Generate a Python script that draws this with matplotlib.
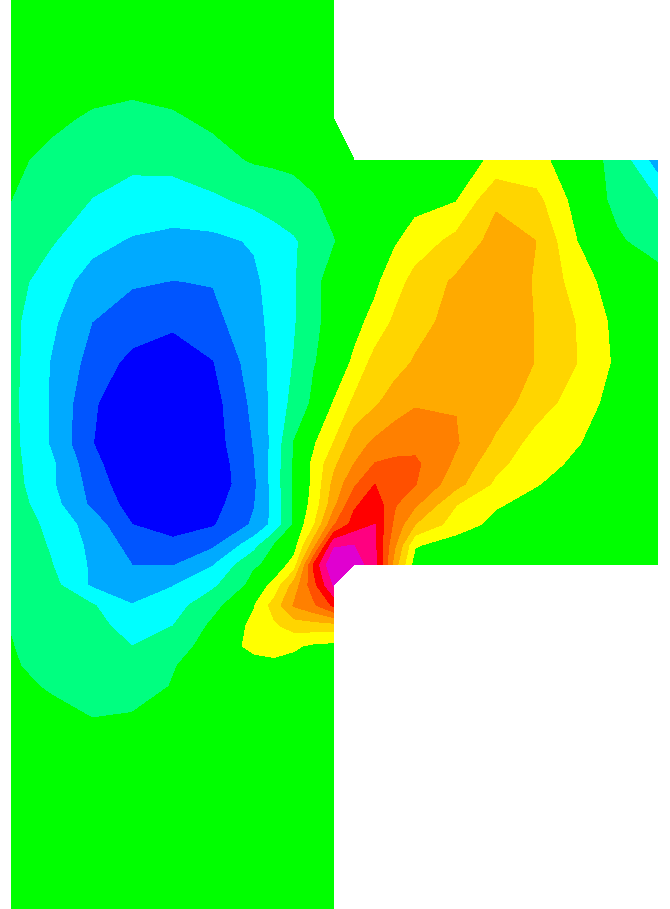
import numpy as np
import matplotlib
matplotlib.use('Agg')
import matplotlib.pyplot as plt

nan = float('nan')

# grid nodes, in picture pixels
x_left = [11, 51, 92, 132, 173, 213, 254, 274, 294, 314, 334]
x_right = [354, 375, 395, 415, 456, 496, 536, 577, 617, 658]
y_nodes = [-2, 38.5, 79, 119.5, 160, 200.5, 241, 281.5, 322, 362.5, 403, 443.5, 464, 484, 504,
           524.5, 545, 565, 585, 605.5, 626, 646, 666, 686.5, 727, 767.5, 808, 848.5, 889, 929.5]

# field values on the vertical column (all rows of y_nodes)
field_left = [
    [0, 0, 0, 0, 0, 0, 0, 0, 0, 0, 0],
    [0, 0, 0, 0, 0, 0, 0, 0, 0, 0, 0],
    [0, -0.05, -0.1, -0.2, -0.15, -0.05, 0, 0, 0, 0, 0],
    [-0.05, -0.3, -0.65, -0.8, -0.62, -0.35, -0.1, -0.05, -0.05, 0, 0],
    [-0.3, -0.75, -1.15, -1.3, -1.2, -0.8, -0.42, -0.35, -0.25, -0.1, 0],
    [-0.5, -1.0, -1.53, -1.85, -1.96, -1.7, -1.25, -1.1, -0.95, -0.6, -0.2],
    [-0.85, -1.4, -2.2, -2.6, -2.78, -2.75, -2.4, -1.9, -1.6, -1.14, -0.55],
    [-1.1, -2.0, -2.9, -3.4, -3.52, -3.45, -2.7, -2.1, -1.6, -0.75, -0.1],
    [-1.25, -2.3, -3.5, -3.95, -4.28, -3.8, -2.85, -2.2, -1.6, -0.65, -0.25],
    [-1.2, -2.55, -3.88, -4.8, -5.2, -4.55, -3.0, -2.25, -1.45, -0.55, -0.1],
    [-1.25, -2.6, -4.3, -5.6, -6.0, -4.9, -3.25, -2.2, -1.2, -0.3, 0.55],
    [-1.2, -2.6, -4.45, -5.8, -6.2, -5.0, -3.45, -2.2, -0.45, 0.4, 1.55],
    [-1.2, -2.3, -4.1, -5.6, -6.1, -5.2, -3.55, -2.1, -0.4, 0.7, 2.3],
    [-1.1, -2.35, -3.85, -5.3, -5.9, -5.2, -3.7, -2.1, -0.35, 0.7, 2.8],
    [-1.0, -2.1, -3.7, -4.9, -5.5, -4.9, -3.55, -2.2, -0.4, 0.85, 3.2],
    [-0.9, -1.75, -2.95, -4.5, -5.0, -4.6, -3.35, -2.2, -0.4, 1.4, 4.4],
    [-0.75, -1.6, -2.75, -3.85, -4.2, -3.7, -1.9, -0.5, 0.0, 3.1, 7.3],
    [-0.65, -1.45, -2.65, -3.5, -3.55, -2.55, -0.6, -0.3, 0.95, 5.7, 8.6],
    [-0.6, -1.15, -2.65, -3.1, -2.55, -1.7, -0.2, 0.8, 2.9, 5.2, 7.6],
    [-0.55, -0.95, -1.4, -2.45, -1.95, -0.8, 0.45, 1.9, 3.6, 4.3, 5.7],
    [-0.52, -0.85, -1.25, -1.8, -1.5, -0.3, 0.7, 1.3, 1.9, 2.0, 2.0],
    [-0.48, -0.75, -1.1, -1.5, -1.05, 0.0, 0.7, 0.9, 0.65, 0.3, 0.2],
    [-0.42, -0.75, -0.95, -1.2, -0.55, -0.05, 0.2, 0.2, 0.1, 0, 0],
    [-0.25, -0.6, -0.85, -0.95, -0.45, 0, 0, 0, 0, 0, 0],
    [0, -0.1, -0.4, -0.25, -0.05, 0, 0, 0, 0, 0, 0],
    [0, 0, 0, 0, 0, 0, 0, 0, 0, 0, 0],
    [0, 0, 0, 0, 0, 0, 0, 0, 0, 0, 0],
    [0, 0, 0, 0, 0, 0, 0, 0, 0, 0, 0],
    [0, 0, 0, 0, 0, 0, 0, 0, 0, 0, 0],
    [0, 0, 0, 0, 0, 0, 0, 0, 0, 0, 0],
]

# field values on the horizontal channel (rows y=160 to y=565)
field_right = [
    [0, 0, 0, 0, 0, 0.7, 0.75, 0, -0.78, -3.05],
    [0, 0, 0.05, 0.2, 0.45, 2.36, 1.8, 0.1, -0.7, -1.5],
    [0, 0.1, 0.4, 0.9, 1.8, 2.85, 2.5, 0.5, -0.4, -0.85],
    [0, 0.3, 1.05, 1.85, 2.65, 3.2, 2.4, 1.05, -0.1, -0.2],
    [0.2, 0.8, 1.7, 2.1, 2.9, 3.3, 2.45, 1.45, 0.2, 0],
    [0.65, 1.9, 2.1, 2.6, 3.1, 3.35, 2.45, 1.5, 0.3, 0],
    [1.7, 2.35, 3.0, 3.4, 3.45, 3.0, 2.0, 1.0, 0.1, 0],
    [3.05, 3.7, 4.1, 4.2, 3.6, 2.3, 1.05, 0.55, 0, 0],
    [3.5, 4.55, 4.7, 4.7, 3.3, 1.75, 0.9, 0.3, 0, 0],
    [4.3, 5.5, 5.2, 4.55, 2.85, 1.3, 0.55, 0.1, 0, 0],
    [5.3, 6.1, 4.6, 3.7, 1.55, 0.6, 0.2, 0, 0, 0],
    [5.9, 6.5, 4.2, 2.5, 1.0, 0.2, 0, 0, 0, 0],
    [7.5, 6.6, 3.6, 0.6, 0, 0, 0, 0, 0, 0],
    [8.0, 6.9, 2.9, 0, 0, 0, 0, 0, 0, 0],
]

levels = [-100, -4.5, -3.5, -2.5, -1.5, -0.5, 0.5, 1.5, 2.5, 3.5, 4.5, 5.5, 6.5, 7.5, 100]
colors = ['#0000ff', '#0055ff', '#00aaff', '#00ffff', '#00ff80', '#00ff00', '#ffff00',
          '#ffd500', '#ffaa00', '#ff8000', '#ff5000', '#ff0000', '#ff0080', '#e000d0']

x = np.array(x_left + x_right)
y = np.array(y_nodes)
z = np.full((len(y), len(x)), nan)
z[:, :len(x_left)] = field_left
z[4:18, len(x_left):] = field_right

fig = plt.figure(figsize=(6.7, 9.09), dpi=100)
ax = fig.add_axes([0, 0, 1, 1])
ax.contourf(x, y, z, levels=levels, colors=colors)
ax.set_xlim(0, 670)
ax.set_ylim(909, 0)
ax.axis('off')
fig.savefig('out.png', dpi=100)
plt.close(fig)
